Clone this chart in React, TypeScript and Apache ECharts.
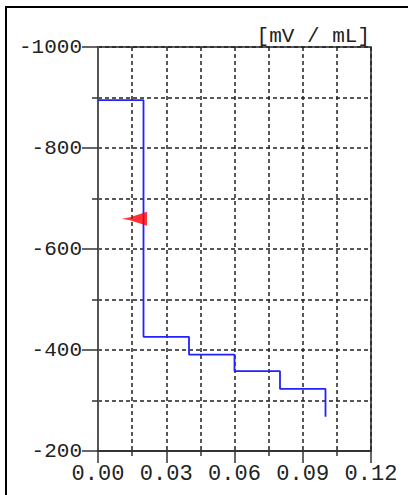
import React, { useEffect, useRef } from "react";
import * as echarts from "echarts";

const volumes = [0, 0.02, 0.04, 0.06, 0.08, 0.1];
const potentials = [-895, -426, -391, -358, -323, -268];
const markerPoint = [0.02, -660];
const unitLabel = "[mV / mL]";
const xTicks = { min: 0, max: 0.12, interval: 0.03 };
const yTicks = { min: -1000, max: -200, interval: 200 };

const FONT = "Liberation Mono";

export default function App() {
  const ref = useRef<HTMLDivElement>(null);
  useEffect(() => {
    if (!ref.current) return;
    const chart = echarts.init(ref.current, null, { renderer: "svg" });
    const dash = { type: [4, 3] as any, color: "#222", width: 1.5 };
    chart.setOption({
      animation: false,
      backgroundColor: "#fff",
      grid: {
        left: 98,
        top: 47,
        right: 37,
        bottom: 44,
        show: true,
        borderColor: "#222",
        borderWidth: 1.5,
      },
      graphic: [
        {
          type: "rect",
          shape: { x: 6, y: 7, width: 520, height: 520 },
          style: { fill: "none", stroke: "#000", lineWidth: 2 },
          silent: true,
        },
        {
          type: "text",
          x: 370,
          y: 47,
          style: {
            text: unitLabel,
            font: `21px "${FONT}"`,
            fill: "#222",
            textAlign: "right",
            textVerticalAlign: "bottom",
          },
        },
      ],
      xAxis: {
        type: "value",
        min: xTicks.min,
        max: xTicks.max,
        interval: xTicks.interval,
        axisLine: { onZero: false, lineStyle: { color: "#333", width: 2 } },
        axisTick: { length: 12, lineStyle: { color: "#333", width: 1.5 } },
        minorTick: { show: true, splitNumber: 2, length: 5, lineStyle: { color: "#333", width: 1.5 } },
        axisLabel: {
          margin: 12,
          color: "#222",
          fontFamily: FONT,
          fontSize: 22,
          formatter: (v: number) => v.toFixed(2),
        },
        splitLine: { show: true, lineStyle: dash },
        minorSplitLine: { show: true, lineStyle: dash },
      },
      yAxis: {
        type: "value",
        inverse: true,
        min: yTicks.min,
        max: yTicks.max,
        interval: yTicks.interval,
        axisLine: { show: true, lineStyle: { color: "#555", width: 2 } },
        axisTick: { show: true, length: 16, lineStyle: { color: "#333", width: 1.5 } },
        minorTick: { show: true, splitNumber: 2, length: 6, lineStyle: { color: "#333", width: 1.5 } },
        axisLabel: {
          margin: 16,
          color: "#222",
          fontFamily: FONT,
          fontSize: 21,
          formatter: (v: number) => String(v),
        },
        splitLine: { show: true, lineStyle: dash },
        minorSplitLine: { show: true, lineStyle: dash },
      },
      series: [
        {
          type: "line",
          step: "end",
          data: volumes.map((v, i) => [v, potentials[i]]),
          showSymbol: false,
          symbol: "none",
          lineStyle: { color: "#2222ff", width: 1.8 },
          z: 3,
        },
        {
          type: "scatter",
          data: [markerPoint],
          symbol: "path://M0,7 L8,5.5 L25,0 L25,14 L8,8.5 Z",
          symbolSize: [25, 14],
          symbolOffset: [-9, 0],
          itemStyle: { color: "#ff0000" },
          z: 4,
        },
      ],
    });
    return () => chart.dispose();
  }, []);
  return (
    <div
      ref={ref}
      style={{ position: "fixed", left: 0, top: 0, width: 408, height: 495 }}
    />
  );
}
